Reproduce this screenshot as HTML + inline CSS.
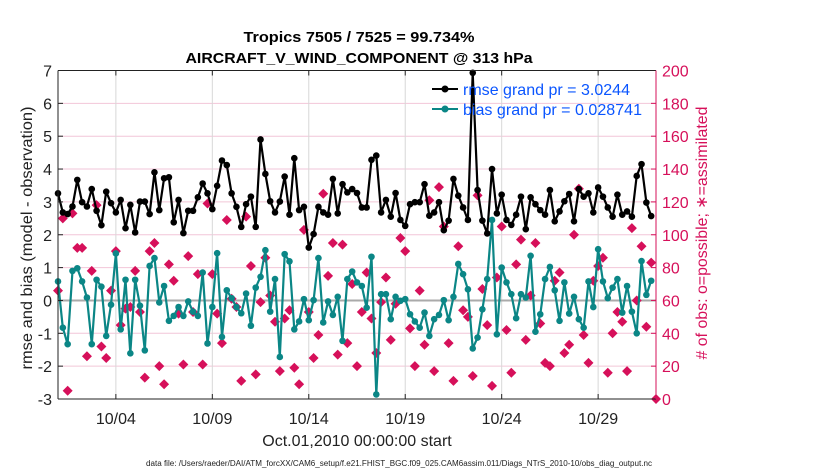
<!DOCTYPE html>
<html><head><meta charset="utf-8">
<style>
html,body{margin:0;padding:0;background:#fff;}
svg{display:block;font-family:"Liberation Sans",Arial,sans-serif;}
</style></head>
<body>
<svg id="chart" width="830" height="470" viewBox="0 0 830 470" xmlns="http://www.w3.org/2000/svg">
  <rect x="0" y="0" width="830" height="470" fill="#fff"/>
  <text x="359" y="42" text-anchor="middle" font-size="15" font-weight="bold" textLength="231" lengthAdjust="spacingAndGlyphs">Tropics 7505 / 7525 = 99.734%</text>
  <text x="359" y="63" text-anchor="middle" font-size="15" font-weight="bold" textLength="347" lengthAdjust="spacingAndGlyphs">AIRCRAFT_V_WIND_COMPONENT @ 313 hPa</text>
  <g id="grid"></g>
  <g id="series"></g>
  <g id="axes"></g>
  <g>
    <g>
      <line x1="432" y1="89" x2="458" y2="89" stroke="#000" stroke-width="2"/>
      <circle cx="445" cy="89" r="3.5" fill="#000"/>
      <text x="463" y="95" font-size="16" fill="#0a55ff" textLength="167" lengthAdjust="spacingAndGlyphs">rmse grand pr = 3.0244</text>
    </g>
    <g>
      <line x1="432" y1="109" x2="458" y2="109" stroke="#0b8686" stroke-width="2"/>
      <circle cx="445" cy="109" r="3.5" fill="#0b8686"/>
      <text x="463" y="115" font-size="16" fill="#0a55ff" textLength="179" lengthAdjust="spacingAndGlyphs">bias grand pr = 0.028741</text>
    </g>
  </g>
  <text transform="translate(32,238) rotate(-90)" text-anchor="middle" font-size="16" fill="#222" textLength="263" lengthAdjust="spacingAndGlyphs">rmse and bias (model - observation)</text>
  <text transform="translate(707,233) rotate(-90)" text-anchor="middle" font-size="16" fill="#d6105a" textLength="253" lengthAdjust="spacingAndGlyphs"># of obs: o=possible; &#8727;=assimilated</text>
  <text x="357" y="446" text-anchor="middle" font-size="16" fill="#222">Oct.01,2010 00:00:00 start</text>
  <text x="146" y="466" font-size="8" fill="#222" textLength="506" lengthAdjust="spacingAndGlyphs">data file: /Users/raeder/DAI/ATM_forcXX/CAM6_setup/f.e21.FHIST_BGC.f09_025.CAM6assim.011/Diags_NTrS_2010-10/obs_diag_output.nc</text>
</svg>
<script>
const rmseValues = [3.26,2.68,2.63,2.86,3.67,2.99,2.86,3.39,2.73,2.29,3.31,2.96,2.68,3.06,2.20,2.91,2.07,3.01,3.01,2.63,3.90,2.75,3.72,3.75,2.38,3.06,2.05,2.73,2.73,3.14,
3.56,3.26,2.78,3.49,4.26,4.12,3.26,2.85,2.24,2.93,3.16,2.24,4.90,3.85,3.02,2.68,3.01,3.77,2.61,4.33,2.75,2.85,1.61,2.02,2.85,2.68,2.61,3.70,2.65,3.54,
3.29,3.39,3.27,2.83,2.83,4.28,4.41,2.68,3.06,2.55,3.27,2.45,2.27,2.93,2.99,2.99,3.54,2.58,2.68,2.99,2.14,2.43,3.70,3.19,2.83,2.45,6.93,3.36,2.43,2.04,
4.00,2.65,3.22,2.45,2.30,2.61,3.16,2.17,3.14,2.93,2.75,2.61,3.36,2.41,2.71,3.02,3.24,2.41,3.39,3.16,3.26,2.68,3.44,3.16,2.83,2.55,3.22,2.61,2.71,2.55,
3.79,4.15,2.98,2.57];
const biasValues = [0.58,-0.83,-1.33,0.90,0.98,0.58,0.09,-1.33,0.63,0.42,-1.08,-0.13,1.43,-0.88,0.63,-1.61,0.63,-0.16,-1.52,1.05,1.29,-0.06,0.44,-0.62,-0.47,-0.20,-0.47,-0.03,-0.34,-0.47,
0.85,-1.31,-0.20,1.44,-1.11,0.31,0.07,-0.20,-0.39,0.21,-0.77,0.39,0.72,1.53,-0.34,0.65,-1.72,1.41,1.19,-0.88,-0.64,0.04,-0.60,0.01,1.29,-0.67,-0.03,-0.44,0.11,-1.23,
0.65,0.88,0.55,0.44,-0.22,1.33,-2.86,0.19,0.19,-0.57,0.11,-0.01,0.04,-0.42,-0.64,-0.83,-0.37,-1.08,-0.57,-0.44,0.01,-0.60,0.11,1.11,0.80,0.34,-1.46,-1.13,-0.27,0.65,
2.45,-1.03,1.00,0.55,0.19,-0.54,0.19,0.09,1.36,-0.95,-0.42,0.65,1.02,0.31,-0.62,0.55,-0.40,0.11,-0.57,-0.83,0.58,-0.20,1.56,0.58,0.07,0.39,0.65,-0.37,0.44,-0.34,
-1.0,1.2,0.17,0.6];
const obsCounts = [66,110,5,113,92,92,26,78,118,32,25,66,90,45,55,56,78,53,13,90,95,20,9,82,72,52,21,87,53,76,
21,119,76,52,34,109,61,56,11,111,81,15,59,86,63,47,17,49,54,19,9,103,53,25,39,125,75,95,27,94,
34,70,20,53,77,49,28,59,74,36,58,98,90,43,20,66,33,121,17,129,105,34,11,93,54,50,14,124,67,45,
8,74,105,42,16,82,97,36,63,95,46,22,20,72,77,28,33,100,128,39,22,72,81,86,16,40,53,47,17,104,
60,93,44,83,0];
const stepDays = 0.25;
const xTickDays = [3,8,13,18,23,28];
const xTickLabels = ["10/04","10/09","10/14","10/19","10/24","10/29"];
const leftTicks = [-3,-2,-1,0,1,2,3,4,5,6,7];
const rightTicks = [0,20,40,60,80,100,120,140,160,180,200];

const PL=58, PR=656, PT=70.5, PB=399;
const X = d => PL + d*(PR-PL)/31;
const YL = v => PT + (7-v)*(PB-PT)/10;
const YR = c => PB - c*(PB-PT)/200;
const NS="http://www.w3.org/2000/svg";
function mk(tag, attrs, parent){const e=document.createElementNS(NS,tag);for(const k in attrs)e.setAttribute(k,attrs[k]);parent.appendChild(e);return e;}
const grid=document.getElementById('grid'), series=document.getElementById('series'), axes=document.getElementById('axes');
const RED="#d6105a", TEAL="#0b8686";

leftTicks.forEach(v=>{
  if(v>-3&&v<7&&v!==0){const l=mk('line',{x1:PL,x2:PR,y1:YL(v),y2:YL(v),stroke:"#f2c6d8","stroke-width":1},grid);
  
  }
  const t=mk('text',{x:52,y:YL(v)+6,"text-anchor":"end","font-size":16,fill:"#222"},axes);t.textContent=v;
  
  
  mk('line',{x1:PL,x2:PL+5,y1:YL(v),y2:YL(v),stroke:"#222"},axes);
});
xTickDays.forEach((d,i)=>{
  const l=mk('line',{x1:X(d),x2:X(d),y1:PT,y2:PB,stroke:"#d8d8d8","stroke-width":1},grid);
  
  
  mk('line',{x1:X(d),x2:X(d),y1:PB,y2:PB-5,stroke:"#222"},axes);
  mk('line',{x1:X(d),x2:X(d),y1:PT,y2:PT+5,stroke:"#222"},axes);
  const t=mk('text',{x:X(d),y:424,"text-anchor":"middle","font-size":16,fill:"#222"},axes);t.textContent=xTickLabels[i];
  
  
});
rightTicks.forEach(c=>{
  mk('line',{x1:PR,x2:PR-5,y1:YR(c),y2:YR(c),stroke:RED},axes);
  const t=mk('text',{x:662,y:YR(c)+6,"font-size":16,fill:RED},axes);t.textContent=c;
  
  
});
const zl=mk('line',{x1:PL,x2:PR,y1:YL(0),y2:YL(0),stroke:"#aaaaaa","stroke-width":2},grid);



// obs count markers
const obsG=mk('g',{},series);


obsCounts.forEach((c,i)=>{
  const x=X(i*stepDays), y=YR(c);
  const p=mk('path',{d:`M${x-5},${y} L${x},${y-5} L${x+5},${y} L${x},${y+5} Z`,fill:RED},obsG);
  
  
});
function line(vals,color,name){
  const g=mk('g',{},series);
  
  
  const pts=vals.map((v,i)=>X(i*stepDays).toFixed(1)+","+YL(v).toFixed(1)).join(" ");
  mk('polyline',{points:pts,fill:"none",stroke:color,"stroke-width":2.2,"stroke-linejoin":"round"},g);
  vals.forEach((v,i)=>{
    const c=mk('circle',{cx:X(i*stepDays),cy:YL(v),r:3.3,fill:color},g);
    
    
  });
}
line(biasValues,TEAL,'bias-series');
line(rmseValues,"#000",'rmse-series');

// frame
mk('line',{x1:PL,x2:PR,y1:PT,y2:PT,stroke:"#222"},axes);
mk('line',{x1:PL,x2:PR,y1:PB,y2:PB,stroke:"#222"},axes);
mk('line',{x1:PL,x2:PL,y1:PT,y2:PB,stroke:"#222"},axes);
mk('line',{x1:PR,x2:PR,y1:PT,y2:PB,stroke:RED},axes);
</script>
</body></html>
